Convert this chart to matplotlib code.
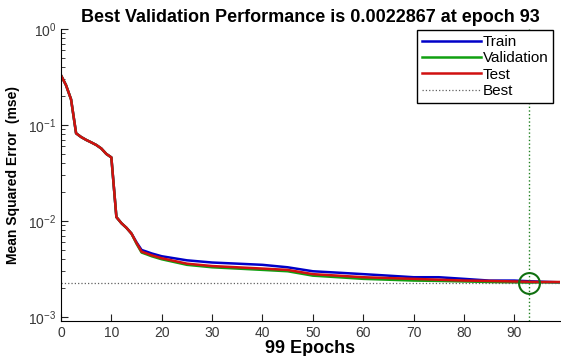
import numpy as np
import matplotlib
matplotlib.use("Agg")
import matplotlib.pyplot as plt

plt.rcParams['font.family'] = ['Liberation Sans', 'DejaVu Sans']

# ############ Datos
epocas = [0, 1, 2, 3, 4, 5, 6, 7, 8, 9, 10, 11, 12, 13, 14, 15, 16, 17, 18,
          20, 25, 30, 35, 40, 45, 50, 55, 60, 65, 70, 75, 80, 85, 90, 93, 95, 99]
train = [0.33, 0.26, 0.185, 0.082, 0.075, 0.07, 0.066, 0.062, 0.057, 0.05, 0.046,
         0.011, 0.0095, 0.0085, 0.0074, 0.006, 0.0050, 0.0048, 0.0046,
         0.0043, 0.0039, 0.0037, 0.0036, 0.0035, 0.0033, 0.0030, 0.0029, 0.0028,
         0.0027, 0.0026, 0.0026, 0.0025, 0.0024, 0.0024, 0.00236, 0.00234, 0.0023]
validacion = [0.33, 0.26, 0.185, 0.082, 0.075, 0.07, 0.066, 0.062, 0.057, 0.05, 0.046,
              0.011, 0.0095, 0.0085, 0.0074, 0.0058, 0.0047, 0.0045, 0.0043,
              0.0040, 0.0035, 0.0033, 0.0032, 0.0031, 0.0030, 0.0027, 0.0026, 0.0025,
              0.00245, 0.0024, 0.00238, 0.00235, 0.00232, 0.0023, 0.0022867, 0.0023, 0.0023]
test = [0.33, 0.26, 0.185, 0.082, 0.075, 0.07, 0.066, 0.062, 0.057, 0.05, 0.046,
        0.011, 0.0095, 0.0085, 0.0074, 0.0059, 0.0048, 0.0046, 0.0044,
        0.0041, 0.0036, 0.0034, 0.0033, 0.0032, 0.0031, 0.0028, 0.0027, 0.0026,
        0.00255, 0.0025, 0.00245, 0.0024, 0.00238, 0.00235, 0.00233, 0.00232, 0.00232]
mejor_epoca = 93
mejor_valor = 0.0022867
n_epocas = 99

# ############ Grafico
fig = plt.figure(figsize=(5.61, 3.56), dpi=100)
ax = fig.add_axes([0.1087, 0.0983, 0.889, 0.8202])

ax.semilogy(epocas, train, color='#0000c8', lw=1.8, label='Train')
ax.semilogy(epocas, validacion, color='#10a010', lw=1.8, label='Validation')
ax.semilogy(epocas, test, color='#d01010', lw=1.8, label='Test')
ax.axhline(mejor_valor, color='#606060', ls=':', lw=0.9, label='Best')
ax.axvline(mejor_epoca, color='#208020', ls=':', lw=1.0)
ax.plot(mejor_epoca, mejor_valor, 'o', mfc='none', mec='#107010', mew=1.5, ms=15)

ax.set_xlim(0, n_epocas)
ax.set_ylim(0.00091, 1.0)
ax.set_xticks(np.arange(0, 100, 10))
ax.tick_params(direction='in', which='both', labelsize=10, colors='#202020',
               labelcolor='#383838')
ax.tick_params(which='major', length=5)
ax.tick_params(which='minor', length=3)
ax.tick_params(axis='x', which='minor', bottom=False)
ax.spines['top'].set_visible(False)
ax.spines['right'].set_visible(False)

ax.set_title('Best Validation Performance is 0.0022867 at epoch 93',
             fontsize=13, fontweight='bold', pad=5)
ax.set_xlabel('99 Epochs', fontsize=13, fontweight='bold', labelpad=0)
ax.set_ylabel('Mean Squared Error  (mse)', fontsize=10, fontweight='bold', labelpad=6)

leg = ax.legend(loc='upper right', fontsize=11, fancybox=False, framealpha=1,
                edgecolor='black', bbox_to_anchor=(0.987, 0.995), borderaxespad=0,
                handlelength=3.9, handletextpad=0.1, labelspacing=0.15, borderpad=0.3)
leg.get_frame().set_linewidth(1.0)

fig.savefig('out.png', dpi=100)
